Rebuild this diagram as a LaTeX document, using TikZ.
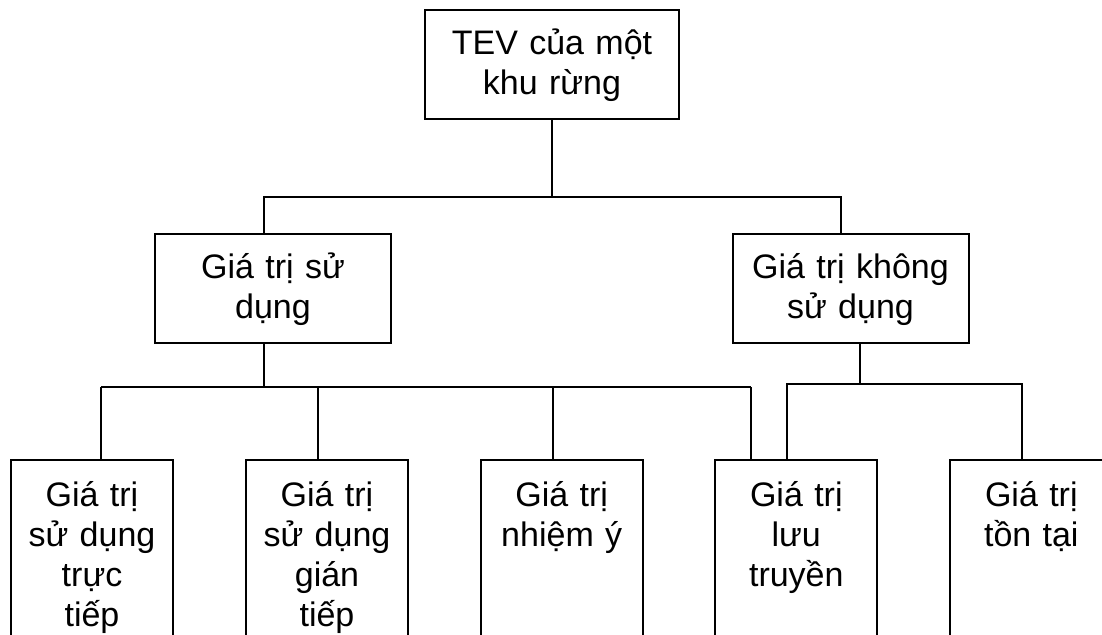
\documentclass[tikz,border=0pt]{standalone}
\usepackage{fontspec}
\setmainfont{Liberation Sans}
\begin{document}
\begin{tikzpicture}[
  x=0.5pt, y=-0.5pt,
  line width=1pt,
  every box/.style={
    draw=black,
    line width=1pt,
    inner sep=0pt,
    align=center,
    anchor=north,
    font=\fontsize{17}{20}\selectfont,
  },
  head box/.style={
    every box/.try,
    text width=#1,
    text height=22pt,
    text depth=32.5pt,
  },
  head box/.default=118pt,
  leaf box/.style={
    every box/.try,
    text width=81pt,
    text height=23pt,
    text depth=120pt,
  }
]
\useasboundingbox (0,0) rectangle (1102,634);
\clip (0,0) rectangle (1102,634);
\node[head box=127pt] (tev) at (552,9) {TEV của một\\khu rừng};
\node[head box] (use) at (273,233) {Giá trị sử\\dụng};
\node[head box] (nonuse) at (850.5,233) {Giá trị không\\sử dụng};
\foreach \name/\x/\txt in {
  direct/92/{Giá trị\\sử dụng\\trực\\tiếp},
  indirect/327/{Giá trị\\sử dụng\\gián\\tiếp},
  option/561.7/{Giá trị\\nhiệm ý},
  bequest/796.3/{Giá trị\\lưu\\truyền},
  existence/1031.3/{Giá trị\\tồn tại}}
{
  \node[leaf box] (\name) at (\x,459) {\txt};
}
\coordinate (topbar) at (0,197);
\coordinate (usebar) at (0,387);
\coordinate (nonusebar) at (0,384);
\draw (tev.south) -- (tev.south |- topbar);
\draw (263.7,0 |- use.north) -- (263.7,0 |- topbar) -- (841,0 |- topbar) -- (841,0 |- nonuse.north);
\draw (263.7,0 |- use.south) -- (263.7,0 |- usebar);
\draw (101,0 |- usebar) -- (750.7,0 |- usebar);
\foreach \x/\leaf in {101/direct, 318/indirect, 552.5/option, 750.7/bequest}
  \draw (\x,0 |- usebar) -- (\x,0 |- \leaf.north);
\draw (860,0 |- nonuse.south) -- (860,0 |- nonusebar);
\draw (786.7,0 |- bequest.north) |- (1021.7,0 |- nonusebar) -- (1021.7,0 |- existence.north);
\end{tikzpicture}
\end{document}
